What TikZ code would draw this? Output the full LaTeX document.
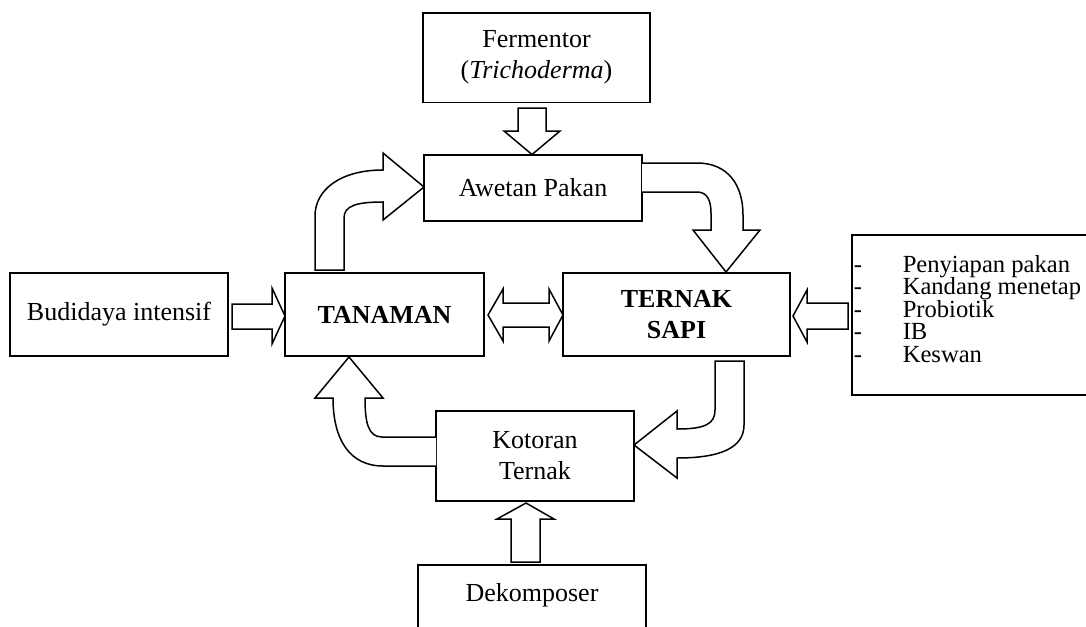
\documentclass[tikz,border=0pt]{standalone}
\usepackage{fontspec}
\setmainfont{Liberation Serif}
\begin{document}
\begin{tikzpicture}[x=1pt,y=-1pt, line width=1.5pt,
  box/.style={draw, rectangle, inner sep=0pt, align=center, font=\fontsize{26}{31}\selectfont},
  blk/.style={draw, fill=white, line join=miter},
  txt/.style={font=\fontsize{26}{30}\selectfont, inner sep=0pt},
  itm/.style={font=\fontsize{24.6}{24}\selectfont, inner sep=0pt, anchor=base west}]
\clip (0,0) rectangle (1086,626);
% boxes
\node[box, minimum width=227, minimum height=89.5] (ferm) at (536.5,57.75) {Fermentor\\(\textit{Trichoderma})};
\node[box, minimum width=218, minimum height=66] (awet) at (533,188) {Awetan Pakan};
\node[box, minimum width=218, minimum height=83] (budi) at (119,314.5) {Budidaya intensif};
\node[box, minimum width=199, minimum height=83] (tan) at (384.5,314.5) {\textbf{TANAMAN}};
\node[box, minimum width=227, minimum height=83] (sapi) at (676.5,314.5) {\textbf{TERNAK}\\\textbf{SAPI}};
\node[box, minimum width=240, minimum height=160] (list) at (972,315) {};
\node[box, minimum width=198, minimum height=90] (koto) at (535,456) {Kotoran\\Ternak};
\node[box, minimum width=228, minimum height=80] (deko) at (532,605) {};
\node[txt] (dekot) at (532,595) {Dekomposer};
% list text
\foreach \yy/\t [count=\i] in {272/Penyiapan pakan, 294.5/Kandang menetap, 317/Probiotik, 339.5/IB, 362/Keswan}{
  \node[itm] (dash\i) at (853,\yy) {-};
  \node[itm] (item\i) at (902,\yy) {\t};
}
% straight block arrows
\draw[blk] (518,108) -- (546,108) -- (546,131) -- (560,131) -- (532,154.5) -- (504,131) -- (518,131) -- cycle;
\draw[blk] (232,304) -- (272,304) -- (272,288) -- (285,316) -- (272,344) -- (272,329) -- (232,329) -- cycle;
\draw[blk] (488,315) -- (503,289) -- (503,303) -- (549,303) -- (549,289) -- (563,315) -- (549,341) -- (549,327) -- (503,327) -- (503,341) -- cycle;
\draw[blk] (848,303) -- (848,329) -- (807,329) -- (807,342) -- (793,316) -- (807,290) -- (807,303) -- cycle;
\draw[blk] (511,562) -- (511,519) -- (497,519) -- (526,503) -- (554,519) -- (540,519) -- (540,562) -- cycle;
% curved block arrows
\draw[blk] (315,270) -- (315,216) .. controls (315,190) and (340,170) .. (383,170) -- (383,153) -- (424,187) -- (383,220) -- (383,202) .. controls (356,202) and (344,206) .. (344,218) -- (344,270) -- cycle;
\draw[blk] (642,163) -- (697,163) .. controls (728,163) and (743,185) .. (743,215) -- (743,230) -- (760,230) -- (726,272) -- (693,230) -- (711,230) -- (711,213) .. controls (711,200) and (707,192) .. (697,192) -- (642,192);
\draw[blk] (715,361) -- (744,361) -- (744,425) .. controls (744,448) and (720,458) .. (677,458) -- (677,478) -- (634,445) -- (677,411) -- (677,429) .. controls (705,429) and (715,424) .. (715,410) -- cycle;
\draw[blk] (436,437) -- (382,437) .. controls (368,437) and (365,422) .. (365,398) -- (383,398) -- (349,357) -- (315,398) -- (333,398) .. controls (333,440) and (350,466) .. (383,466) -- (436,466);
\end{tikzpicture}
\end{document}
